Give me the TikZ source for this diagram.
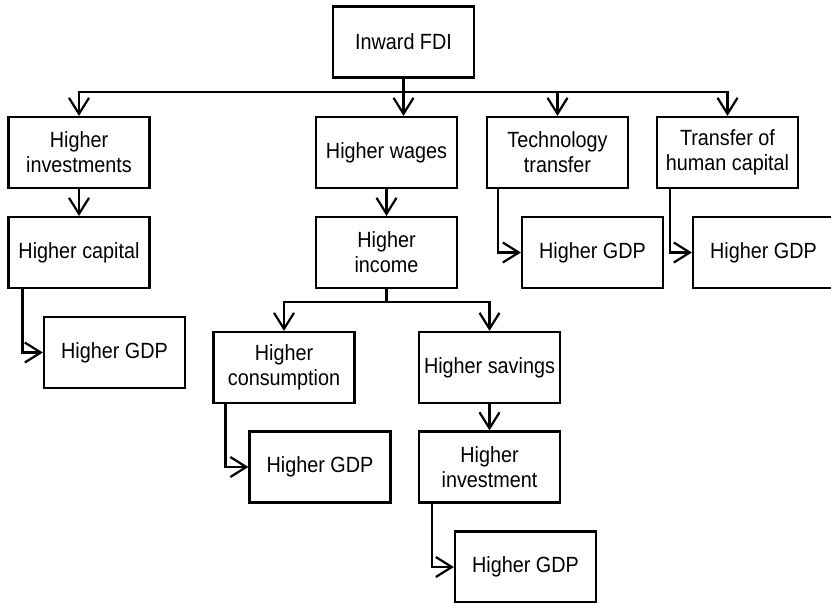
\documentclass[tikz,border=0pt]{standalone}
\usepackage{fontspec}
\setmainfont{Liberation Sans}[FakeStretch=0.9]
\usetikzlibrary{arrows.meta}

\begin{document}
\begin{tikzpicture}[x=1pt,y=-1pt,
  box/.style={draw, line width=2.2pt, minimum width=141pt, minimum height=71pt,
    inner sep=0pt, align=center, font=\fontsize{22}{25}\selectfont},
  arr/.style={line width=2.2pt, -{Straight Barb[length=16pt,width=20pt,line width=2.2pt]}},
  line/.style={line width=2.2pt}]
  \useasboundingbox (0,0) rectangle (831,603);
  % top
  \node[box] (fdi) at (403.5,42) {Inward FDI};
  \coordinate (busA) at (403.5,92);
  % first row
  \node[box] (inv)   at (79,152.5)    {Higher\\investments};
  \node[box] (wages) at (386.5,152.5) {Higher wages};
  \node[box] (tech)  at (557.5,152.5) {Technology\\transfer};
  \node[box] (human) at (727.5,152.5) {Transfer of\\human capital};
  % second row
  \node[box] (capital) at (79,252.5)    {Higher capital};
  \node[box] (income)  at (386.5,252.5) {Higher\\income};
  \node[box] (gdpT)    at (592.5,252.5) {Higher GDP};
  \node[box] (gdpH)    at (763.5,252.5) {Higher GDP};
  \node[box] (gdpA)    at (114.5,352.5) {Higher GDP};
  \coordinate (busB) at (386.5,302);
  % income branch
  \node[box] (cons)   at (284,367.5)   {Higher\\consumption};
  \node[box] (sav)    at (489.5,367.5) {Higher savings};
  \node[box] (gdpC)   at (320,467)     {Higher GDP};
  \node[box] (invest) at (489.5,467)   {Higher\\investment};
  \node[box] (gdpI)   at (525.5,567)   {Higher GDP};

  \draw[arr] (fdi) -- (fdi |- wages.north);
  \draw[arr] (busA) -| (inv);
  \draw[arr] (busA) -| (tech);
  \draw[arr] (busA) -| (human);
  \draw[arr] (inv) -- (capital);
  \draw[arr] (wages) -- (income);
  \draw[arr] ([xshift=15pt]capital.south west) |- (gdpA);
  \draw[arr] ([xshift=12pt]tech.south west) |- (gdpT);
  \draw[arr] ([xshift=14pt]human.south west) |- (gdpH);
  \draw[line] (income) -- (busB);
  \draw[arr] (busB) -| (cons);
  \draw[arr] (busB) -| (sav);
  \draw[arr] ([xshift=13pt]cons.south west) |- (gdpC);
  \draw[arr] (sav) -- (invest);
  \draw[arr] ([xshift=14pt]invest.south west) |- (gdpI);
\end{tikzpicture}
\end{document}
